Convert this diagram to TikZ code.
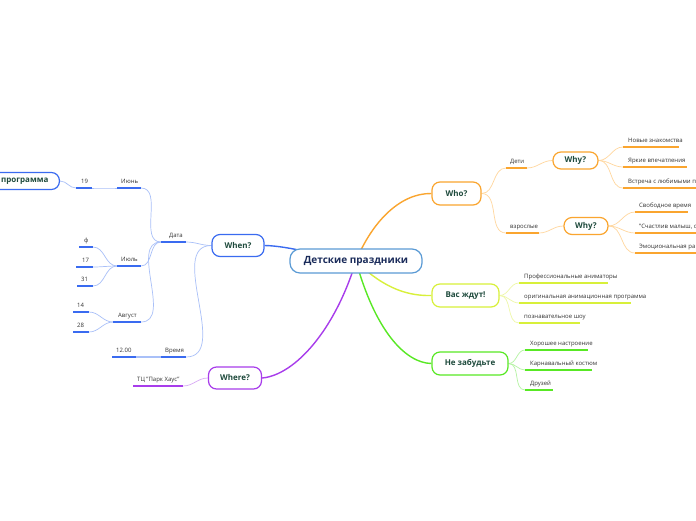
\documentclass[tikz,border=0pt]{standalone}
\usepackage{fontspec}
\setmainfont{Open Sans}
\usetikzlibrary{backgrounds}
\definecolor{blueD}{HTML}{3A6BF0}
\definecolor{blueL}{HTML}{A9C0F8}
\definecolor{orangeD}{HTML}{FAA52F}
\definecolor{orangeL}{HTML}{FFD79E}
\definecolor{yellowD}{HTML}{D8F03A}
\definecolor{yellowL}{HTML}{EEF8A8}
\definecolor{greenD}{HTML}{58E824}
\definecolor{greenL}{HTML}{B4F3A2}
\definecolor{purpleD}{HTML}{A83DEB}
\definecolor{purpleL}{HTML}{D8A9F5}
\definecolor{centerB}{HTML}{5B9BD5}
\definecolor{boxtext}{HTML}{1E4A3C}
\definecolor{centertext}{HTML}{1A2B5A}
\definecolor{leafgray}{HTML}{333333}
% [text offset] name, x, y (underline), width, colour, text
\newcommand\leaf[7][5]{%
  \coordinate (#2-l) at (#3,#4);
  \coordinate (#2-r) at ({#3+#5},#4);
  \node[leaftext, anchor=base west] (#2) at ({#3+#1},{#4-4.5}) {#7};
  \draw[ul=#6] (#2-l) -- (#2-r);}
\begin{document}
\begin{tikzpicture}[x=1pt,y=-1pt,
  box/.style={draw=#1, line width=1.2pt, rounded corners=8pt, fill=white,
    font=\bfseries\fontsize{8}{9}\selectfont, text=boxtext, inner sep=0pt},
  leaftext/.style={font=\fontsize{6}{7}\selectfont, text=leafgray, inner sep=0pt},
  ul/.style={line width=2pt, draw=#1},
  con/.style={line width=0.7pt, draw=#1},
  mainc/.style={line width=1.4pt, draw=#1}]
\useasboundingbox (0,0) rectangle (696,520);

% main boxes
\node[box=centerB, minimum width=132pt, minimum height=24pt, rounded corners=10pt,
  font=\bfseries\fontsize{10}{12}\selectfont, text=centertext] (c) at (356,261) {Детские праздники};
\node[box=blueD, minimum width=52pt, minimum height=22pt] (when) at (238,245.5) {When?};
\node[box=orangeD, minimum width=49pt, minimum height=23pt] (who) at (456.5,193.5) {Who?};
\node[box=yellowD, minimum width=67pt, minimum height=23pt] (wait) at (465.5,295.5) {Вас ждут!};
\node[box=greenD, minimum width=76pt, minimum height=23pt] (forget) at (470,363.5) {Не забудьте};
\node[box=purpleD, minimum width=53pt, minimum height=22pt] (where) at (235,378) {Where?};
\node[box=orangeD, minimum width=45pt, minimum height=17pt] (why1) at (575.5,160.5) {Why?};
\node[box=orangeD, minimum width=44pt, minimum height=17pt] (why2) at (586,226) {Why?};
\node[box=blueD, anchor=east, text width=64pt, align=right, inner xsep=11pt,
  minimum height=17pt] (prog) at (60,181) {программа};

% right side leaves
\leaf[4]{deti}{506}{168}{21}{orangeD}{Дети}
\leaf[4]{vzr}{506}{233}{33}{orangeD}{взрослые}
\leaf{nz}{623}{147}{56}{orangeD}{Новые знакомства}
\leaf{yv}{623}{167}{64}{orangeD}{Яркие впечатления}
\leaf{vl}{623}{188}{80}{orangeD}{Встреча с любимыми п}
\leaf[4]{sv}{635}{212}{53}{orangeD}{Свободное время}
\leaf[4]{sm}{635}{233}{70}{orangeD}{"Счастлив малыш, с}
\leaf[4]{er}{635}{253}{70}{orangeD}{Эмоциональная ра}
\leaf{pa}{519}{283}{89}{yellowD}{Профессиональные аниматоры}
\leaf{oa}{519}{303}{112}{yellowD}{оригинальная анимационная программа}
\leaf{ps}{519}{323}{61}{yellowD}{познавательное шоу}
\leaf{hn}{525}{350}{63}{greenD}{Хорошее настроение}
\leaf{kk}{525}{370}{67}{greenD}{Карнавальный костюм}
\leaf{dr}{525}{390}{28}{greenD}{Друзей}

% left side leaves
\leaf[8]{data}{161}{242}{25}{blueD}{Дата}
\leaf[4]{vremya}{161}{357}{25}{blueD}{Время}
\leaf[4]{jun}{117}{188}{24}{blueD}{Июнь}
\leaf[4]{jul}{117}{266}{24}{blueD}{Июль}
\leaf[5]{aug}{113}{322}{28}{blueD}{Август}
\leaf[5]{n19}{76}{188}{16}{blueD}{19}
\leaf[5]{f}{79}{247}{14}{blueD}{ф}
\leaf[6]{n17}{76}{267}{17}{blueD}{17}
\leaf[4]{n31}{77}{286}{16}{blueD}{31}
\leaf[4]{n14}{73}{312}{16}{blueD}{14}
\leaf[4]{n28}{73}{332}{16}{blueD}{28}
\leaf[4]{t12}{112}{357}{24}{blueD}{12.00}
\leaf[4]{tc}{133}{386}{50}{purpleD}{ТЦ "Парк Хаус"}

\begin{pgfonlayer}{background}
\fill[white] (0,0) rectangle (696,520);
% main connectors
\draw[mainc=blueD] (c.center) .. controls (320,256) and (290,246) .. (when.east);
\draw[mainc=orangeD] (c.center) .. controls (372,222) and (400,193) .. (who.west);
\draw[mainc=yellowD] (c.center) .. controls (385,290) and (410,296) .. (wait.west);
\draw[mainc=greenD] (c.center) .. controls (375,330) and (405,363) .. (forget.west);
\draw[mainc=purpleD] (c.center) .. controls (335,330) and (295,375) .. (where.east);
% orange branch
\draw[con=orangeL] (who.east) to[out=0,in=180] (deti-l);
\draw[con=orangeL] (who.east) to[out=0,in=180] (vzr-l);
\draw[con=orangeL] (deti-r) to[out=0,in=180] (why1.west);
\draw[con=orangeL] (vzr-r) to[out=0,in=180] (why2.west);
\draw[con=orangeL] (why1.east) to[out=0,in=180] (nz-l);
\draw[con=orangeL] (why1.east) to[out=0,in=180] (yv-l);
\draw[con=orangeL] (why1.east) to[out=0,in=180] (vl-l);
\draw[con=orangeL] (why2.east) to[out=0,in=180] (sv-l);
\draw[con=orangeL] (why2.east) to[out=0,in=180] (sm-l);
\draw[con=orangeL] (why2.east) to[out=0,in=180] (er-l);
% yellow branch
\draw[con=yellowL] (wait.east) to[out=0,in=180] (pa-l);
\draw[con=yellowL] (wait.east) to[out=0,in=180] (oa-l);
\draw[con=yellowL] (wait.east) to[out=0,in=180] (ps-l);
% green branch
\draw[con=greenL] (forget.east) to[out=0,in=180] (hn-l);
\draw[con=greenL] (forget.east) to[out=0,in=180] (kk-l);
\draw[con=greenL] (forget.east) to[out=0,in=180] (dr-l);
% blue branch
\draw[con=blueL] (when.west) to[out=180,in=0] (data-r);
\draw[con=blueL] (when.west) to[out=180,in=0] (vremya-r);
\draw[con=blueL] (data-l) to[out=180,in=0] (jun-r);
\draw[con=blueL] (data-l) to[out=180,in=0] (jul-r);
\draw[con=blueL] (data-l) to[out=180,in=0] (aug-r);
\draw[con=blueL] (jun-l) to[out=180,in=0] (n19-r);
\draw[con=blueL] (n19-l) to[out=180,in=0] (prog.east);
\draw[con=blueL] (jul-l) to[out=180,in=0] (f-r);
\draw[con=blueL] (jul-l) to[out=180,in=0] (n17-r);
\draw[con=blueL] (jul-l) to[out=180,in=0] (n31-r);
\draw[con=blueL] (aug-l) to[out=180,in=0] (n14-r);
\draw[con=blueL] (aug-l) to[out=180,in=0] (n28-r);
\draw[con=blueL, line width=1.4pt] (vremya-l) -- (t12-r);
% purple branch
\draw[con=purpleL] (where.west) to[out=180,in=0] (tc-r);
\end{pgfonlayer}
\end{tikzpicture}
\end{document}
